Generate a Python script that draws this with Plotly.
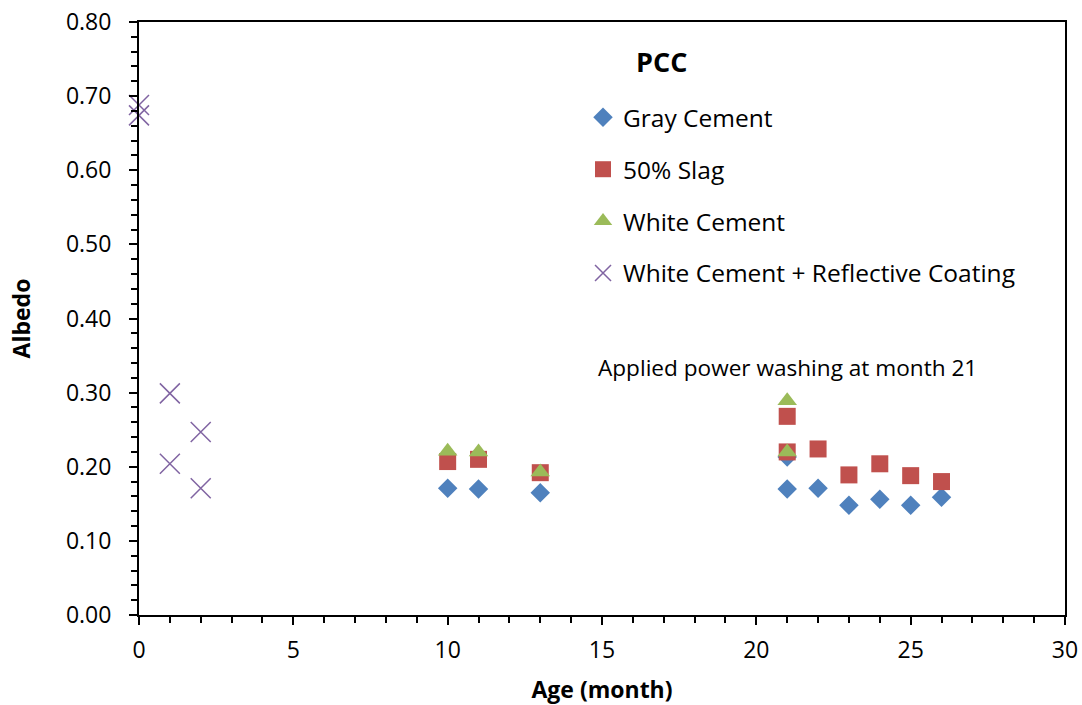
import plotly.graph_objects as go

# Albedo of PCC mixes vs. age
gray_age = [10, 11, 13, 21, 21, 22, 23, 24, 25, 26]
gray_albedo = [0.171, 0.170, 0.165, 0.170, 0.213, 0.171, 0.148, 0.156, 0.148, 0.159]

slag_age = [10, 11, 13, 21, 21, 22, 23, 24, 25, 26]
slag_albedo = [0.207, 0.210, 0.192, 0.268, 0.220, 0.224, 0.189, 0.204, 0.188, 0.180]

white_age = [10, 11, 13, 21, 21]
white_albedo = [0.221, 0.220, 0.193, 0.289, 0.220]

coat_age = [0, 0, 1, 1, 2, 2]
coat_albedo = [0.688, 0.674, 0.299, 0.204, 0.247, 0.171]

FONT = "Open Sans"

fig = go.Figure()
fig.add_trace(go.Scatter(x=gray_age, y=gray_albedo, mode="markers", name="Gray Cement",
                         legendgroup="g1",
                         marker=dict(symbol="diamond", size=15, color="#4F81BD")))
fig.add_trace(go.Scatter(x=slag_age, y=slag_albedo, mode="markers", name="50% Slag",
                         legendgroup="g2",
                         marker=dict(symbol="square", size=17, color="#C0504D")))
fig.add_trace(go.Scatter(x=white_age, y=white_albedo, mode="markers", name="White Cement",
                         legendgroup="g3",
                         marker=dict(symbol="triangle-up", size=17, color="#9BBB59")))
fig.add_trace(go.Scatter(x=coat_age, y=coat_albedo, mode="markers",
                         name="White Cement + Reflective Coating", legendgroup="g4",
                         cliponaxis=False,
                         marker=dict(symbol="x-thin", size=20, color="#8064A2",
                                     line=dict(width=1.5, color="#8064A2"))))

axis_common = dict(showline=True, linecolor="black", linewidth=2, mirror=True,
                   ticks="outside", tickcolor="black", tickwidth=2, ticklen=8,
                   showgrid=False, zeroline=False, automargin=False,
                   ticklabeloverflow="allow",
                   tickfont=dict(family=FONT, size=23, color="black"))

fig.update_xaxes(range=[0, 30], dtick=5, ticklabelstandoff=5,
                 minor=dict(dtick=1, ticks="outside", ticklen=6, tickcolor="black", tickwidth=2),
                 title=dict(text="<b>Age (month)</b>", font=dict(family=FONT, size=23, color="black"),
                            standoff=18),
                 **axis_common)
fig.update_yaxes(range=[0, 0.8], dtick=0.1, tickformat=".2f", ticklabelstandoff=13,
                 minor=dict(dtick=0.02, ticks="outside", ticklen=6, tickcolor="black", tickwidth=2),
                 title=dict(text="<b>Albedo</b>", font=dict(family=FONT, size=23, color="black"),
                            standoff=29),
                 **axis_common)

fig.add_annotation(text="<b>PCC</b>", xref="paper", yref="paper", x=0.564, y=0.968,
                   showarrow=False, font=dict(family=FONT, size=27, color="black"))
fig.add_annotation(text="Applied power washing at month 21", xref="paper", yref="paper",
                   x=0.494, y=0.418, xanchor="left", showarrow=False,
                   font=dict(family=FONT, size=22.6, color="black"))

fig.update_layout(
    width=1082, height=705,
    margin=dict(l=139, r=17, t=22, b=90),
    plot_bgcolor="white", paper_bgcolor="white",
    font=dict(family=FONT, color="black"),
    legend=dict(x=0.4795, y=0.877, xanchor="left", yanchor="top",
                font=dict(family=FONT, size=24.5, color="black"),
                tracegroupgap=17, bgcolor="rgba(0,0,0,0)", itemwidth=30),
)

# drop the browser's default 8px body margin so the figure fills the window
fig.write_html("out.html", config={"displayModeBar": False},
               post_script="document.body.style.margin='0';document.body.style.overflow='hidden';")
